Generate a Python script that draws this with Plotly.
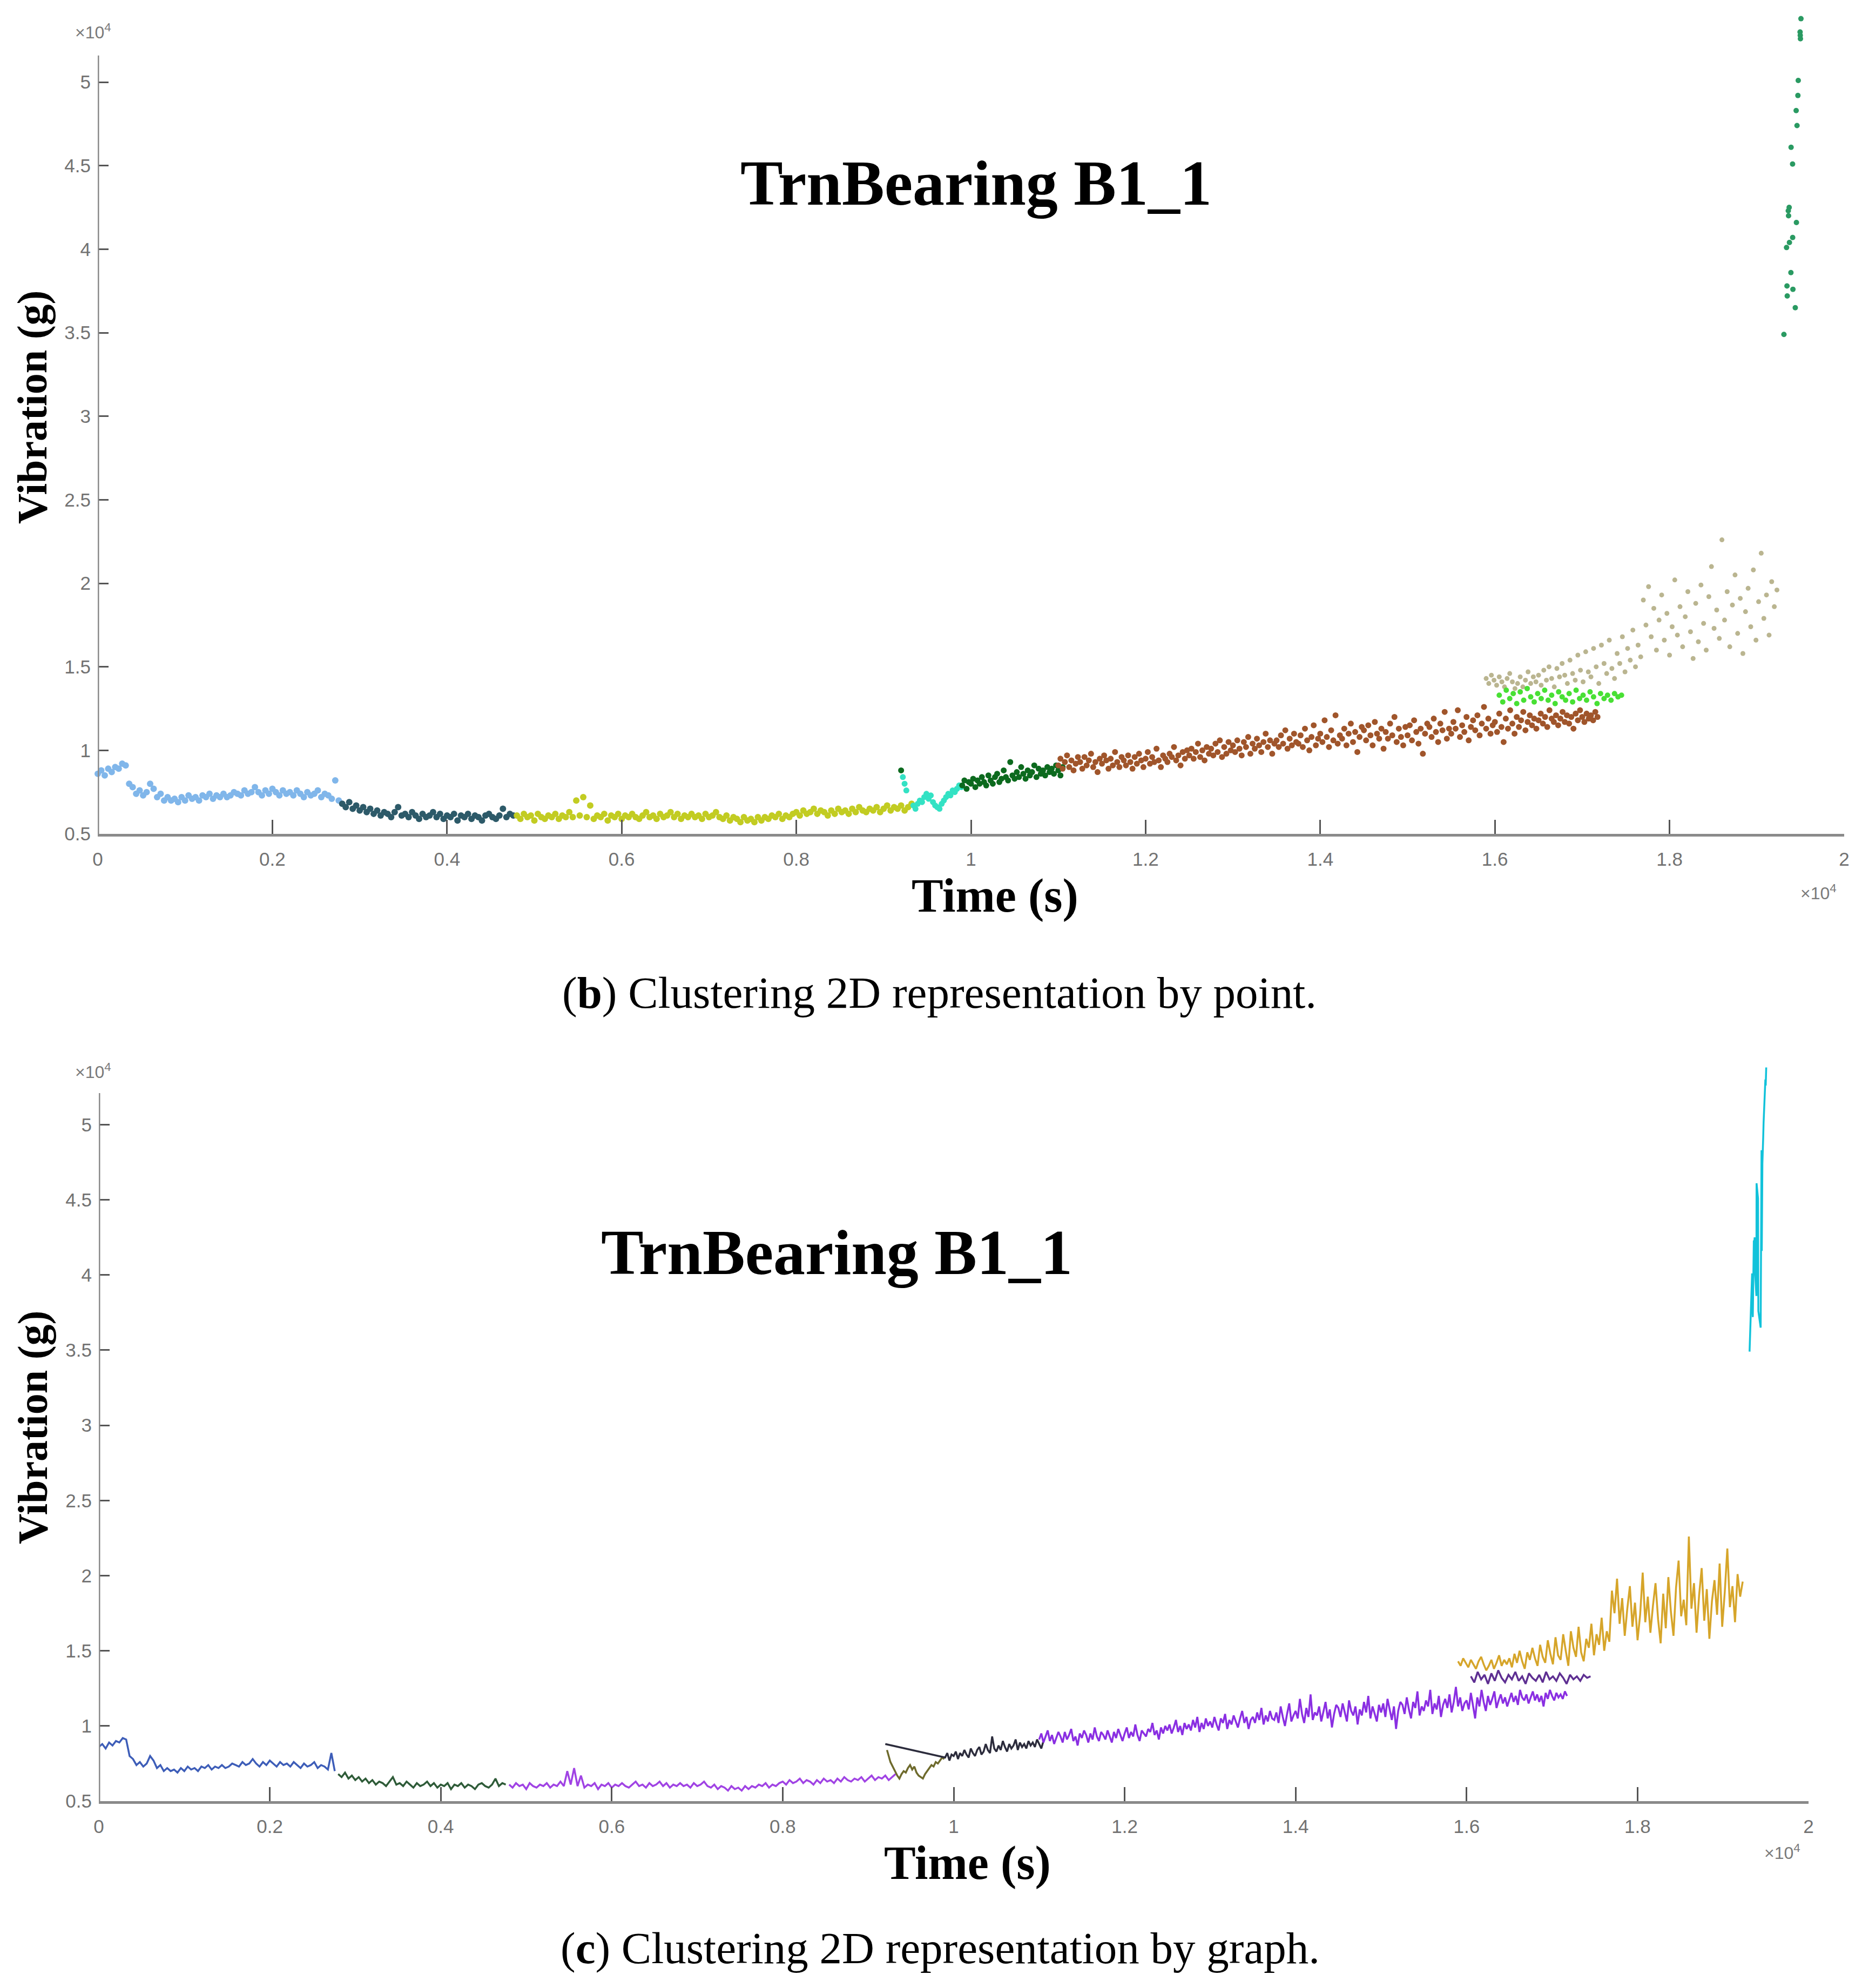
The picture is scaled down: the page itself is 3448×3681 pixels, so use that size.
import numpy as np
import plotly.graph_objects as go

# Time in units of 1e4 s, vibration in units of 1e4 g.
# Each cluster: sampling start time, sampling step, and the vibration values.

c1_start, c1_step = 0.000, 0.004
c1_vib = [0.86, 0.88, 0.85, 0.89, 0.87, 0.90, 0.89, 0.92,
          0.91, 0.80, 0.78, 0.74, 0.76, 0.73, 0.75, 0.80, 0.77, 0.72, 0.74, 0.70, 0.72, 0.70, 0.71, 0.69, 0.72, 0.70,
          0.73, 0.71, 0.72, 0.70, 0.73, 0.72, 0.74, 0.71, 0.73, 0.72, 0.74, 0.72, 0.73, 0.75,
          0.74, 0.73, 0.76, 0.74, 0.75, 0.78, 0.75, 0.73, 0.76, 0.74, 0.77, 0.75, 0.73, 0.76, 0.74, 0.75, 0.73, 0.76,
          0.74, 0.72, 0.75, 0.73, 0.74, 0.76, 0.72, 0.74, 0.73, 0.71, 0.82, 0.70]

c2_start, c2_step = 0.280, 0.004
c2_vib = [0.68, 0.66, 0.69, 0.65, 0.67, 0.64, 0.66, 0.63, 0.65, 0.62, 0.64, 0.61, 0.63,
          0.62, 0.60, 0.63, 0.66, 0.61, 0.62, 0.60, 0.63, 0.61, 0.59, 0.62, 0.60, 0.61, 0.63, 0.60,
          0.62, 0.59, 0.61, 0.60, 0.62, 0.58, 0.61, 0.60, 0.62, 0.59, 0.61, 0.60, 0.58, 0.61, 0.62,
          0.60, 0.59, 0.61, 0.65, 0.60, 0.62, 0.61]

c3_start, c3_step = 0.480, 0.004
c3_vib = [0.61, 0.59, 0.62, 0.60, 0.61, 0.58, 0.62, 0.60, 0.59, 0.61,
          0.60, 0.62, 0.59, 0.61, 0.60, 0.63, 0.60, 0.70, 0.61, 0.72,
          0.60, 0.67, 0.59, 0.61, 0.60, 0.62, 0.58, 0.61, 0.60, 0.62,
          0.59, 0.61, 0.60, 0.62, 0.60, 0.59, 0.61, 0.63, 0.60, 0.61,
          0.59, 0.62, 0.60, 0.61, 0.63, 0.60, 0.62, 0.59, 0.61, 0.60,
          0.62, 0.60, 0.61, 0.59, 0.62, 0.60, 0.61, 0.63, 0.60, 0.59,
          0.61, 0.58, 0.60, 0.59, 0.57, 0.60, 0.58, 0.59, 0.57, 0.60,
          0.58, 0.60, 0.59, 0.61, 0.60, 0.62, 0.59, 0.61, 0.60, 0.62,
          0.63, 0.61, 0.64, 0.62, 0.63, 0.65, 0.62, 0.64, 0.63, 0.61,
          0.64, 0.62, 0.65, 0.63, 0.64, 0.62, 0.65, 0.63, 0.66, 0.64,
          0.63, 0.65, 0.64, 0.66, 0.63, 0.65, 0.67, 0.64, 0.66, 0.65,
          0.67, 0.64, 0.66, 0.68]

c4_early_t = [0.922, 0.924, 0.926]
c4_early_vib = [0.84, 0.80, 0.76]
c4_start, c4_step = 0.934, 0.0025
c4_vib = [0.67, 0.65, 0.68, 0.70, 0.69, 0.72, 0.74, 0.71, 0.73, 0.69, 0.67, 0.66,
          0.65, 0.68, 0.70, 0.72, 0.74, 0.73, 0.76, 0.75, 0.77, 0.79, 0.78]

c5_early_t = [0.920]
c5_early_vib = [0.88]
c5_start, c5_step = 0.990, 0.0025
c5_vib = [0.79, 0.82, 0.77, 0.81, 0.80, 0.83, 0.78, 0.82, 0.80, 0.84,
          0.81, 0.79, 0.85, 0.82, 0.80, 0.84, 0.86, 0.81, 0.83, 0.88,
          0.84, 0.82, 0.93, 0.85, 0.83, 0.87, 0.84, 0.90, 0.86, 0.83,
          0.88, 0.85, 0.87, 0.91, 0.84, 0.89, 0.86, 0.88, 0.85, 0.90,
          0.87, 0.89, 0.86, 0.91, 0.88, 0.85, 0.90]

c6_start, c6_step = 1.100, 0.0025
c6_vib = [0.91, 0.95, 0.89, 0.93, 0.97, 0.90, 0.94, 0.88, 0.92, 0.96,
          0.93, 0.89, 0.96, 0.91, 0.94, 0.98, 0.90, 0.93, 0.87, 0.95,
          0.92, 0.97, 0.94, 0.89, 0.95, 0.91, 0.99, 0.93, 0.90, 0.96,
          0.94, 0.91, 0.97, 0.93, 0.89, 0.96, 0.92, 0.98, 0.94, 0.90,
          0.95, 0.99, 0.92, 0.96, 0.93, 1.01, 0.94, 0.90, 0.97, 0.95,
          0.93, 0.98, 0.96, 1.02, 0.94, 0.97, 0.91, 0.99, 0.95, 1.00,
          0.97, 1.01, 0.95, 0.99, 1.04, 0.96, 1.00, 0.94, 1.02, 0.98,
          1.01, 0.97, 1.04, 0.99, 1.06, 0.96, 1.02, 0.98, 1.05, 1.00,
          1.03, 0.99, 1.06, 1.01, 0.97, 1.05, 1.02, 1.08, 0.98, 1.04,
          1.01, 1.07, 1.03, 0.99, 1.05, 1.10, 1.02, 1.06, 0.98, 1.04,
          1.06, 1.02, 1.09, 1.04, 1.12, 1.01, 1.07, 1.03, 1.10, 1.05,
          1.04, 1.09, 1.02, 1.13, 1.06, 1.00, 1.08, 1.15, 1.03, 1.07,
          1.10, 1.05, 1.18, 1.08, 1.02, 1.12, 1.06, 1.21, 1.04, 1.09,
          1.07, 1.13, 1.03, 1.10, 1.16, 1.05, 1.11, 0.99, 1.08, 1.14,
          1.12, 1.06, 1.15, 1.09, 1.03, 1.17, 1.10, 1.07, 1.13, 1.01,
          1.11, 1.07, 1.16, 1.09, 1.20, 1.05, 1.13, 1.08, 1.03, 1.14,
          1.09, 1.15, 1.06, 1.18, 1.11, 1.04, 1.13, 0.98, 1.10, 1.16,
          1.14, 1.08, 1.19, 1.11, 1.05, 1.16, 1.12, 1.23, 1.07, 1.13,
          1.10, 1.17, 1.13, 1.24, 1.08, 1.15, 1.11, 1.20, 1.06, 1.14,
          1.18, 1.12, 1.21, 1.09, 1.16, 1.26, 1.13, 1.19, 1.10, 1.15,
          1.17, 1.11, 1.22, 1.14, 1.05, 1.19, 1.13, 1.24, 1.16, 1.10,
          1.20, 1.14, 1.18, 1.23, 1.12, 1.17, 1.21, 1.15, 1.19, 1.13,
          1.18, 1.22, 1.16, 1.20, 1.14, 1.24, 1.19, 1.17, 1.21, 1.15,
          1.19, 1.23, 1.17, 1.21, 1.16, 1.20, 1.13, 1.22, 1.18, 1.24,
          1.20, 1.17, 1.22, 1.19, 1.21, 1.18, 1.23, 1.20]

c7_start, c7_step = 1.605, 0.004
c7_vib = [1.33, 1.29, 1.36, 1.31, 1.34, 1.28, 1.35, 1.30, 1.37, 1.32, 1.29, 1.34,
          1.31, 1.36, 1.30, 1.33, 1.28, 1.35, 1.32, 1.30, 1.34, 1.29, 1.36, 1.31,
          1.33, 1.30, 1.35, 1.32, 1.28, 1.34, 1.31, 1.33, 1.30, 1.34, 1.32, 1.33]

c8_start, c8_step = 1.590, 0.003
c8_vib = [1.43, 1.40, 1.45, 1.42, 1.39, 1.44, 1.41, 1.38, 1.43, 1.46,
          1.41, 1.37, 1.40, 1.44, 1.38, 1.42, 1.47, 1.40, 1.44, 1.41,
          1.45, 1.39, 1.48, 1.42, 1.50, 1.43, 1.38, 1.49, 1.44, 1.52,
          1.45, 1.40, 1.54, 1.46, 1.42, 1.57, 1.48, 1.41, 1.59, 1.47,
          1.44, 1.61, 1.50, 1.40, 1.63, 1.52, 1.46, 1.66, 1.49, 1.43,
          1.58, 1.52, 1.68, 1.47, 1.61, 1.54, 1.72, 1.50, 1.63, 1.56,
          1.90, 1.75, 1.98, 1.68, 1.85, 1.60, 1.78, 1.93, 1.66, 1.82,
          1.57, 1.74, 2.02, 1.69, 1.86, 1.62, 1.80, 1.95, 1.71, 1.55,
          1.88, 1.65, 1.99, 1.76, 1.60, 1.92, 2.10, 1.73, 1.84, 1.67,
          2.26, 1.78, 1.95, 1.62, 1.87, 2.05, 1.70, 1.91, 1.58, 1.83,
          1.97, 1.74, 2.08, 1.66, 1.89, 2.18, 1.79, 1.93, 1.69, 2.01,
          1.86, 1.96]

c9_t = [1.931, 1.934, 1.9345, 1.9348, 1.936, 1.9363, 1.937, 1.9373, 1.939, 1.9392, 1.9409,
        1.941, 1.9413, 1.944, 1.945, 1.9453, 1.946, 1.947, 1.9474, 1.9495, 1.9497, 1.9499, 1.9505]
c9_vib = [3.49, 4.01, 3.78, 3.72, 4.23, 4.20, 4.25, 4.04, 3.86, 4.61, 4.51,
          4.07, 3.76, 3.65, 4.83, 4.16, 4.74, 4.92, 5.01, 5.30, 5.28, 5.26, 5.38]

x_ticks = [0, 0.2, 0.4, 0.6, 0.8, 1, 1.2, 1.4, 1.6, 1.8, 2]
x_tick_text = ["0", "0.2", "0.4", "0.6", "0.8", "1", "1.2", "1.4", "1.6", "1.8", "2"]
y_ticks = [0.5, 1, 1.5, 2, 2.5, 3, 3.5, 4, 4.5, 5]
y_tick_text = ["0.5", "1", "1.5", "2", "2.5", "3", "3.5", "4", "4.5", "5"]


def grid(start, step, vals):
    return list(start + step * np.arange(len(vals)))


clusters = {
    "c1": (grid(c1_start, c1_step, c1_vib), c1_vib),
    "c2": (grid(c2_start, c2_step, c2_vib), c2_vib),
    "c3": (grid(c3_start, c3_step, c3_vib), c3_vib),
    "c4": (c4_early_t + grid(c4_start, c4_step, c4_vib), c4_early_vib + c4_vib),
    "c5": (c5_early_t + grid(c5_start, c5_step, c5_vib), c5_early_vib + c5_vib),
    "c6": (grid(c6_start, c6_step, c6_vib), c6_vib),
    "c7": (grid(c7_start, c7_step, c7_vib), c7_vib),
    "c8": (grid(c8_start, c8_step, c8_vib), c8_vib),
    "c9": (c9_t, c9_vib),
}

# styles
point_colors = {"c1": "#80b6ea", "c2": "#2d5a69", "c3": "#c2cc22", "c4": "#33e2c4",
                "c5": "#0c6a1e", "c6": "#a0552b", "c7": "#48e034", "c8": "#bab590",
                "c9": "#2a9a62"}
point_sizes = {"c1": 12, "c2": 12, "c3": 12, "c4": 11, "c5": 11, "c6": 11,
               "c7": 10, "c8": 9, "c9": 10}
line_colors = {"c1": "#3d5db8", "c2": "#2e5b38", "c3": "#a043e4", "c4": "#6e6a2c",
               "c5": "#2c2c3c", "c6": "#8a2fe2", "c7": "#5e2f92", "c8": "#d6a52a",
               "c9": "#12c2da"}
point_order = ["c1", "c2", "c3", "c4", "c5", "c6", "c8", "c7", "c9"]
line_order = ["c1", "c2", "c3", "c4", "c5", "c6", "c7", "c8", "c9"]

fig = go.Figure()
for k in point_order:
    xs, ys = clusters[k]
    fig.add_trace(go.Scatter(x=xs, y=ys, mode="markers", xaxis="x", yaxis="y",
                             marker=dict(size=point_sizes[k], color=point_colors[k], line=dict(width=0)),
                             cliponaxis=False, hoverinfo="skip"))
for k in line_order:
    xs, ys = clusters[k]
    fig.add_trace(go.Scatter(x=xs, y=ys, mode="lines", xaxis="x2", yaxis="y2",
                             line=dict(color=line_colors[k], width=3.5), hoverinfo="skip"))

# page geometry: the page body adds an 8 px margin, so the figure is made 16 px smaller
# and every target position is expressed relative to the figure origin.
W, H = 3432.0, 3665.0
OFF = 8.0


def dom_x(l, r):
    return [(l - OFF) / W, (r - OFF) / W]


def dom_y(bottom, top):
    return [1 - (bottom - OFF) / H, 1 - (top - OFF) / H]


tick_font = dict(family="Liberation Sans, Arial, sans-serif", size=35, color="#727272")
common_x = dict(range=[0, 2], tickvals=x_ticks, ticktext=x_tick_text, ticks="inside",
                ticklen=26, tickwidth=3, tickcolor="#555555", showline=True,
                linecolor="#8a8a8a", linewidth=5, showgrid=False, zeroline=False,
                tickfont=tick_font, ticklabelstandoff=12)
common_y = dict(range=[0.5, 5.4], tickvals=y_ticks, ticktext=y_tick_text, ticks="inside",
                ticklen=20, tickwidth=3, tickcolor="#555555", showline=False,
                showgrid=False, zeroline=False, tickfont=tick_font, ticklabelstandoff=12)

fig.update_layout(
    width=W, height=H, margin=dict(l=0, r=0, t=0, b=0, autoexpand=False),
    paper_bgcolor="white", plot_bgcolor="white", showlegend=False,
    xaxis=dict(domain=dom_x(181, 3415), anchor="y", **common_x),
    yaxis=dict(domain=dom_y(1544, 28.4), anchor="x", **common_y),
    xaxis2=dict(domain=dom_x(183, 3349), anchor="y2", **common_x),
    yaxis2=dict(domain=dom_y(3335, 1971), anchor="x2", **common_y),
)

# y axis lines (stop short of the top of the data area, as in the original)
fig.add_shape(type="line", xref="x", yref="y", x0=0, x1=0, y0=0.5, y1=5.16,
              line=dict(color="#8a8a8a", width=5))
fig.add_shape(type="line", xref="x2", yref="y2", x0=0, x1=0, y0=0.5, y1=5.21,
              line=dict(color="#8a8a8a", width=5))

serif = "Liberation Serif, Times New Roman, serif"
sans = "Liberation Sans, Arial, sans-serif"


def ann(text, px, py, size, family, color="black", angle=0):
    fig.add_annotation(text=text, xref="paper", yref="paper", x=(px - OFF) / W,
                       y=1 - (py - OFF) / H, showarrow=False, xanchor="center",
                       yanchor="middle", textangle=angle,
                       font=dict(size=size, family=family, color=color))


# exponent labels
ann("×10<sup>4</sup>", 172, 58, 32, sans, color="#7a7a7a")
ann("×10<sup>4</sup>", 3367, 1652, 32, sans, color="#7a7a7a")
ann("×10<sup>4</sup>", 172, 1983, 32, sans, color="#7a7a7a")
ann("×10<sup>4</sup>", 3300, 3429, 32, sans, color="#7a7a7a")

# chart titles
ann("<b>TrnBearing B1_1</b>", 1807, 340, 118, serif)
ann("<b>TrnBearing B1_1</b>", 1549, 2319, 118, serif)

# axis titles
ann("<b>Time (s)</b>", 1842, 1659, 88, serif)
ann("<b>Time (s)</b>", 1791, 3449, 88, serif)
ann("<b>Vibration (g)</b>", 60, 754, 78, serif, angle=-90)
ann("<b>Vibration (g)</b>", 60, 2643, 78, serif, angle=-90)

# captions
ann("(<b>b</b>) Clustering 2D representation by point.", 1740, 1838, 83, serif)
ann("(<b>c</b>) Clustering 2D representation by graph.", 1741, 3607, 83, serif)

fig.write_html("out.html")
